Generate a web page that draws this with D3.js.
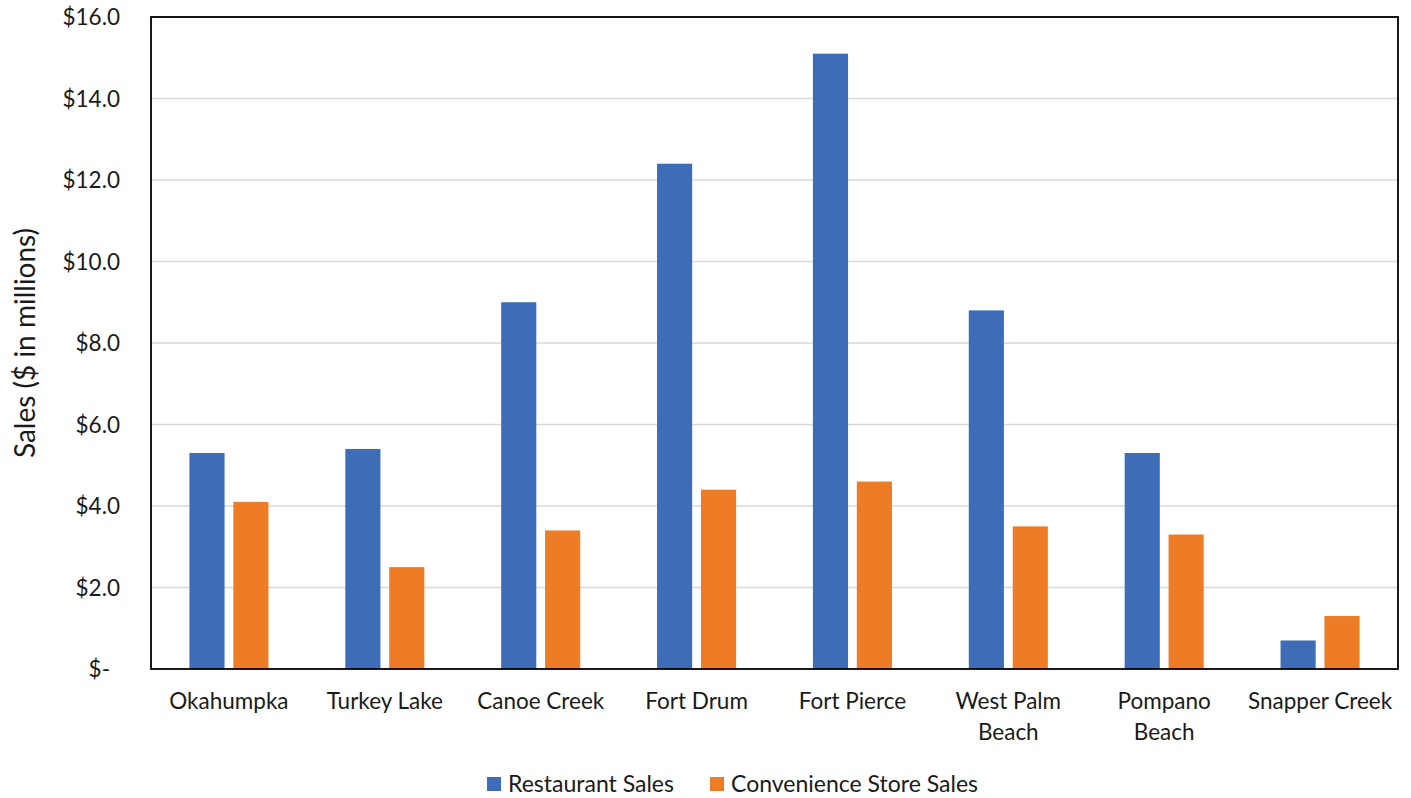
<!DOCTYPE html>
<html>
<head>
<meta charset="utf-8">
<script src="https://cdn.jsdelivr.net/npm/d3@7"></script>
<style>
  html, body { margin: 0; padding: 0; background: #fff; }
  svg text { font-family: Lato, "Open Sans", "Liberation Sans", sans-serif; fill: #1a1a1a; }
</style>
</head>
<body>
<svg id="chart" width="1411" height="798"></svg>
<script>
// Service plaza sales, $ in millions
const plazas = ["Okahumpka", "Turkey Lake", "Canoe Creek", "Fort Drum", "Fort Pierce", "West Palm Beach", "Pompano Beach", "Snapper Creek"];
const plazaLabelLines = [["Okahumpka"], ["Turkey Lake"], ["Canoe Creek"], ["Fort Drum"], ["Fort Pierce"], ["West Palm", "Beach"], ["Pompano", "Beach"], ["Snapper Creek"]];
const seriesNames = ["Restaurant Sales", "Convenience Store Sales"];
const restaurantSales = [5.3, 5.4, 9.0, 12.4, 15.1, 8.8, 5.3, 0.7];
const convenienceSales = [4.1, 2.5, 3.4, 4.4, 4.6, 3.5, 3.3, 1.3];
const yTicks = [0, 2, 4, 6, 8, 10, 12, 14, 16];
const seriesColors = ["#3c6db6", "#ee7c27"];

const svg = d3.select("#chart");
const plot = { left: 151, right: 1398, top: 17, bottom: 669 };
const labelSize = 22.5;

const x0 = d3.scaleBand().domain(plazas).range([plot.left, plot.right]).paddingInner(0.493).paddingOuter(0.2465);
const x1 = d3.scaleBand().domain(seriesNames).range([0, x0.bandwidth()]).paddingInner(0.2);
const y = d3.scaleLinear().domain([0, 16]).range([plot.bottom, plot.top]);
const color = d3.scaleOrdinal().domain(seriesNames).range(seriesColors);

// Horizontal gridlines
svg.append("g")
  .selectAll("line")
  .data(yTicks.filter(d => d > 0))
  .join("line")
  .attr("x1", plot.left).attr("x2", plot.right)
  .attr("y1", d => y(d)).attr("y2", d => y(d))
  .attr("stroke", "#d9d9d9").attr("stroke-width", 1.5);

// Bars
const rows = plazas.map((p, i) => ({ plaza: p, values: [restaurantSales[i], convenienceSales[i]] }));
svg.append("g")
  .selectAll("g")
  .data(rows)
  .join("g")
  .attr("transform", d => `translate(${x0(d.plaza)},0)`)
  .selectAll("rect")
  .data(d => d.values.map((v, j) => ({ name: seriesNames[j], value: v })))
  .join("rect")
  .attr("x", d => x1(d.name))
  .attr("width", x1.bandwidth())
  .attr("y", d => y(d.value))
  .attr("height", d => y(0) - y(d.value))
  .attr("fill", d => color(d.name));

// Plot frame
svg.append("rect")
  .attr("x", plot.left).attr("y", plot.top)
  .attr("width", plot.right - plot.left).attr("height", plot.bottom - plot.top)
  .attr("fill", "none").attr("stroke", "#000").attr("stroke-width", 1.8);

// Y axis labels
const yAxis = d3.axisLeft(y)
  .tickValues(yTicks)
  .tickSize(0)
  .tickPadding(31)
  .tickFormat(d => d === 0 ? "$-" : "$" + d3.format(".1f")(d));
const yg = svg.append("g").attr("transform", `translate(${plot.left},0)`).call(yAxis);
yg.select(".domain").remove();
yg.selectAll("text")
  .attr("font-size", labelSize)
  .attr("dy", "0.35em")
  .attr("dx", d => d === 0 ? -10 : 0);

// X axis labels
const xAxis = d3.axisBottom(x0).tickSize(0).tickFormat(() => "");
const xg = svg.append("g").attr("transform", `translate(0,${plot.bottom})`).call(xAxis);
xg.select(".domain").remove();
xg.selectAll(".tick text").remove();
xg.selectAll(".tick")
  .append("text")
  .attr("text-anchor", "middle")
  .attr("font-size", labelSize)
  .selectAll("tspan")
  .data((d, i) => plazaLabelLines[plazas.indexOf(d)])
  .join("tspan")
  .attr("x", 0)
  .attr("y", (d, i) => 40 + i * 31)
  .text(d => d);

// Y axis title
svg.append("text")
  .attr("transform", `translate(35,${(plot.top + plot.bottom) / 2}) rotate(-90)`)
  .attr("text-anchor", "middle")
  .attr("font-size", 28)
  .text("Sales ($ in millions)");

// Legend
const legendItems = [{ name: seriesNames[0], x: 487 }, { name: seriesNames[1], x: 710 }];
const legend = svg.append("g").attr("transform", "translate(0,777)");
legendItems.forEach(item => {
  legend.append("rect")
    .attr("x", item.x).attr("y", 0)
    .attr("width", 14).attr("height", 14)
    .attr("fill", color(item.name));
  legend.append("text")
    .attr("x", item.x + 21).attr("y", 7)
    .attr("dy", "0.36em")
    .attr("font-size", 23)
    .text(item.name);
});
</script>
</body>
</html>
